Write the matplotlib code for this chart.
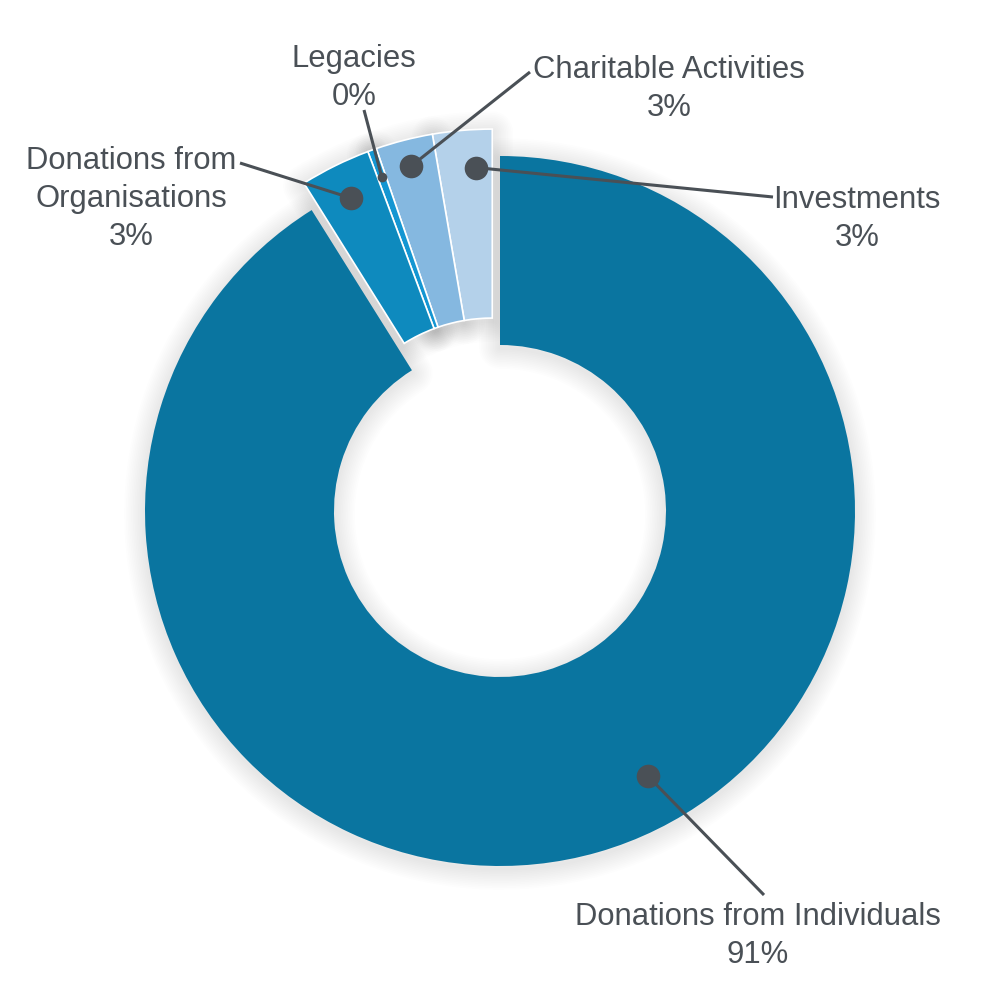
import numpy as np
import matplotlib.pyplot as plt
from matplotlib.patches import Wedge

# data: ccw order starting at 12 o'clock
categories = ['Investments', 'Charitable Activities', 'Legacies',
              'Donations from\nOrganisations', 'Donations from Individuals']
shares = [2.7, 2.6, 0.4, 3.2, 91.1]
colors = ['#B4D1EA', '#85B8E0', '#1496D2', '#0E8ABE', '#0A75A0']

# layout (pixel coords, y from top)
H = 1000
cx, cy = 500, H - 511
R_out, R_in = 355, 166
shift = 28
label_pos = [(857, 219), (669, 89), (354, 78), (131, 199), (758, 936)]
leader_end = [(773, 197), (530, 72), (364, 110), (240, 163), (764, 895)]
anchor_frac = [0.31, 0.5, 0.5, 0.5, 0.54]
anchor_r = [317, 328, 326, 319, 303]
dot_size = [17, 17, 7, 17, 17]
ink = '#4A5056'

fig = plt.figure(figsize=(10, 10), dpi=100)
ax = fig.add_axes([0, 0, 1, 1])
wedges, _ = ax.pie(shares, colors=colors, startangle=90, counterclock=True,
                   radius=R_out, center=(cx, cy),
                   wedgeprops=dict(width=R_out - R_in, linewidth=0))
ax.set_xlim(0, 1000)
ax.set_ylim(0, 1000)
ax.set_aspect('equal')
ax.axis('off')

# pull the small slices out together along their common mid angle
small = wedges[:4]
mid = np.radians((small[0].theta1 + small[-1].theta2) / 2)
dx, dy = shift * np.cos(mid), shift * np.sin(mid)
for w in small:
    w.set_center((cx + dx, cy + dy))
    w.set_edgecolor('white')
    w.set_linewidth(1.2)

# soft shadow
for w in wedges:
    w.set_zorder(2)
    c = (w.center[0], w.center[1] - 3)
    for k in range(1, 13):
        ax.add_patch(Wedge(c, w.r, w.theta1, w.theta2, width=w.width,
                           facecolor='none', edgecolor='black', lw=2.5 * k,
                           alpha=0.009, joinstyle='round', zorder=1))

# leaders, dots and labels
for i, w in enumerate(wedges):
    th = np.radians(w.theta1 + anchor_frac[i] * (w.theta2 - w.theta1))
    px = w.center[0] + anchor_r[i] * np.cos(th)
    py = w.center[1] + anchor_r[i] * np.sin(th)
    ex, ey = leader_end[i]
    ax.plot([px, ex], [py, H - ey], color=ink, lw=2.2, zorder=3,
            solid_capstyle='butt')
    ax.plot(px, py, 'o', ms=dot_size[i], color=ink, mew=0, zorder=4)
    lx, ly = label_pos[i]
    ax.text(lx, H - ly, f'{categories[i]}\n{round(shares[i])}%',
            ha='center', va='center', fontsize=22.3, linespacing=1.33,
            color=ink, family='Liberation Sans', zorder=5)

fig.savefig('out.png', dpi=100, facecolor='white')
